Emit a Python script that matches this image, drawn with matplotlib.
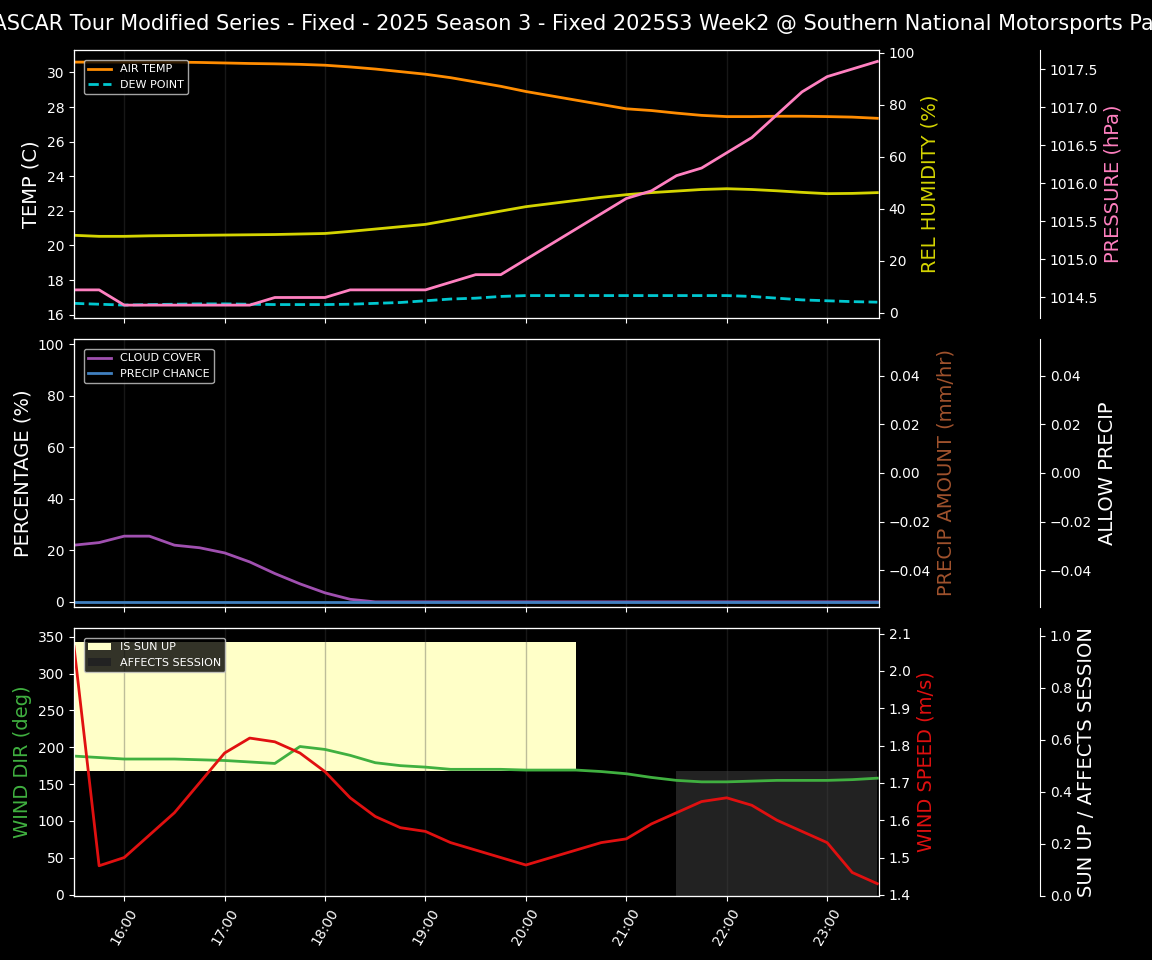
import numpy as np
import pandas as pd
import matplotlib.pyplot as plt
import matplotlib.dates as mdates

# time axis: 15:30 -> 23:30 every 15 min
t = pd.date_range("2025-01-01 15:30", "2025-01-01 23:30", freq="15min")

air_temp = [30.6, 30.6, 30.6, 30.6, 30.6, 30.58, 30.55, 30.52, 30.5, 30.47, 30.42, 30.32, 30.2, 30.05, 29.9,
            29.7, 29.45, 29.2, 28.9, 28.65, 28.4, 28.15, 27.9, 27.8, 27.65, 27.52, 27.45,
            27.45, 27.47, 27.47, 27.45, 27.42, 27.35]
dew_point = [16.65, 16.6, 16.55, 16.58, 16.6, 16.62, 16.62, 16.6, 16.58, 16.58, 16.58, 16.6, 16.65, 16.7, 16.8,
             16.9, 16.95, 17.05, 17.1, 17.1, 17.1, 17.1, 17.1, 17.1, 17.1, 17.1, 17.1,
             17.05, 16.95, 16.85, 16.8, 16.75, 16.72]
humidity = [29.8, 29.4, 29.4, 29.6, 29.7, 29.8, 29.9, 30.0, 30.1, 30.3, 30.5, 31.3, 32.2, 33.1, 34.0,
            35.7, 37.4, 39.1, 40.8, 42.0, 43.2, 44.4, 45.4, 46.2, 46.8, 47.4, 47.7,
            47.4, 46.9, 46.3, 45.8, 45.9, 46.2]
pressure = [1014.6, 1014.6, 1014.4, 1014.4, 1014.4, 1014.4, 1014.4, 1014.4, 1014.5, 1014.5, 1014.5, 1014.6, 1014.6,
            1014.6, 1014.6, 1014.7, 1014.8, 1014.8, 1015.0, 1015.2, 1015.4, 1015.6, 1015.8, 1015.9, 1016.1, 1016.2,
            1016.4, 1016.6, 1016.9, 1017.2, 1017.4, 1017.5, 1017.6]
cloud_cover = [22, 23, 25.5, 25.5, 22, 21, 19, 15.5, 11, 7, 3.5, 1, 0] + [0] * 20
precip_chance = [0] * 33
precip_amount = [0] * 33
wind_dir = [188, 186, 184, 184, 184, 183, 182, 180, 178, 201, 197, 189, 179, 175, 173, 170, 170, 170, 169, 169, 169,
            167, 164, 159, 155, 153, 153, 154, 155, 155, 155, 156, 158]
wind_speed = [2.065, 1.478, 1.50, 1.56, 1.62, 1.70, 1.78, 1.82, 1.81, 1.78, 1.73, 1.66, 1.61, 1.58, 1.57, 1.54, 1.52,
              1.50, 1.48, 1.50, 1.52, 1.54, 1.55, 1.59, 1.62, 1.65, 1.66, 1.64, 1.60, 1.57, 1.54, 1.46, 1.43]
is_sun_up = [1] * 21 + [0] * 12
affects_session = [0] * 24 + [1] * 9

plt.style.use("dark_background")
fig, axes = plt.subplots(3, 1, figsize=(11.52, 9.6), dpi=100, sharex=True)
fig.subplots_adjust(left=74 / 1152, right=879 / 1152, top=1 - 50 / 960, bottom=1 - 896 / 960, hspace=0.078)
fig.suptitle("NASCAR Tour Modified Series - Fixed - 2025 Season 3 - Fixed 2025S3 Week2 @ Southern National Motorsports Park",
             fontsize=15, y=0.985)

LBL = 14

# ---- panel 1
ax = axes[0]
ax.plot(t, air_temp, color="#ff8c00", lw=2, label="AIR TEMP")
ax.plot(t, dew_point, color="#00c8d0", lw=2, ls="--", label="DEW POINT")
ax.set_ylabel("TEMP (C)", fontsize=LBL)
ax.set_ylim(15.8, 31.3)
ax.legend(loc="upper left", fontsize=8, borderaxespad=0.9)
axh = ax.twinx()
axh.plot(t, humidity, color="#d4d400", lw=2)
axh.set_ylim(-2, 101)
axh.set_ylabel("REL HUMIDITY (%)", color="#d4d400", fontsize=LBL)
axp = ax.twinx()
axp.spines["right"].set_position(("axes", 1.2))
axp.plot(t, pressure, color="#ff80c0", lw=2)
axp.set_ylim(1014.23, 1017.75)
axp.set_ylabel("PRESSURE (hPa)", color="#ff80c0", fontsize=LBL)

# ---- panel 2
ax = axes[1]
ax.plot(t, cloud_cover, color="#a050b0", lw=2, label="CLOUD COVER")
ax.plot(t, precip_chance, color="#4080c0", lw=2, label="PRECIP CHANCE")
ax.set_ylim(-2, 102)
ax.set_ylabel("PERCENTAGE (%)", fontsize=LBL)
ax.legend(loc="upper left", fontsize=8, borderaxespad=0.9)
axa = ax.twinx()
axa.plot(t, precip_amount, color="#a0522d", lw=0)
axa.set_ylim(-0.055, 0.055)
axa.set_ylabel("PRECIP AMOUNT (mm/hr)", color="#a0522d", fontsize=LBL)
axw = ax.twinx()
axw.spines["right"].set_position(("axes", 1.2))
axw.set_ylim(-0.055, 0.055)
axw.set_ylabel("ALLOW PRECIP", fontsize=LBL)

# ---- panel 3
ax = axes[2]
axs = ax.twinx()
axs.spines["right"].set_position(("axes", 1.2))
axsp = ax.twinx()
axs.set_zorder(1)
ax.set_zorder(2)
axsp.set_zorder(3)
ax.patch.set_visible(False)
axsp.patch.set_visible(False)
axs.patch.set_facecolor("black")

sun = np.array(is_sun_up, dtype=bool)
aff = np.array(affects_session, dtype=bool)
axs.fill_between(t, 0.48, 0.977, where=sun, color="#ffffc8", step="post", label="IS SUN UP", lw=0)
axs.fill_between(t, 0, 0.48, where=aff, color="#222222", step="post", label="AFFECTS SESSION", lw=0)
axs.set_ylim(0, 1.03)
axs.set_ylabel("SUN UP / AFFECTS SESSION", fontsize=LBL)

ax.plot(t, wind_dir, color="#40b040", lw=2)
ax.set_ylim(-2, 362)
ax.set_ylabel("WIND DIR (deg)", color="#40b040", fontsize=LBL)
axsp.plot(t, wind_speed, color="#e01010", lw=2)
axsp.set_ylim(1.397, 2.115)
axsp.set_ylabel("WIND SPEED (m/s)", color="#e01010", fontsize=LBL)
ax.legend(*axs.get_legend_handles_labels(), loc="upper left", fontsize=8, borderaxespad=0.9)

for a in axes:
    a.set_facecolor("black")
    a.grid(axis="x", color="#444444", alpha=0.35, lw=1)
    a.set_xlim(t[0], t[-1] + pd.Timedelta(minutes=1))
axes[2].xaxis.set_major_locator(mdates.HourLocator())
axes[2].xaxis.set_major_formatter(mdates.DateFormatter("%H:%M"))
plt.setp(axes[2].get_xticklabels(), rotation=60)

fig.savefig("out.png", dpi=100, facecolor="black")
